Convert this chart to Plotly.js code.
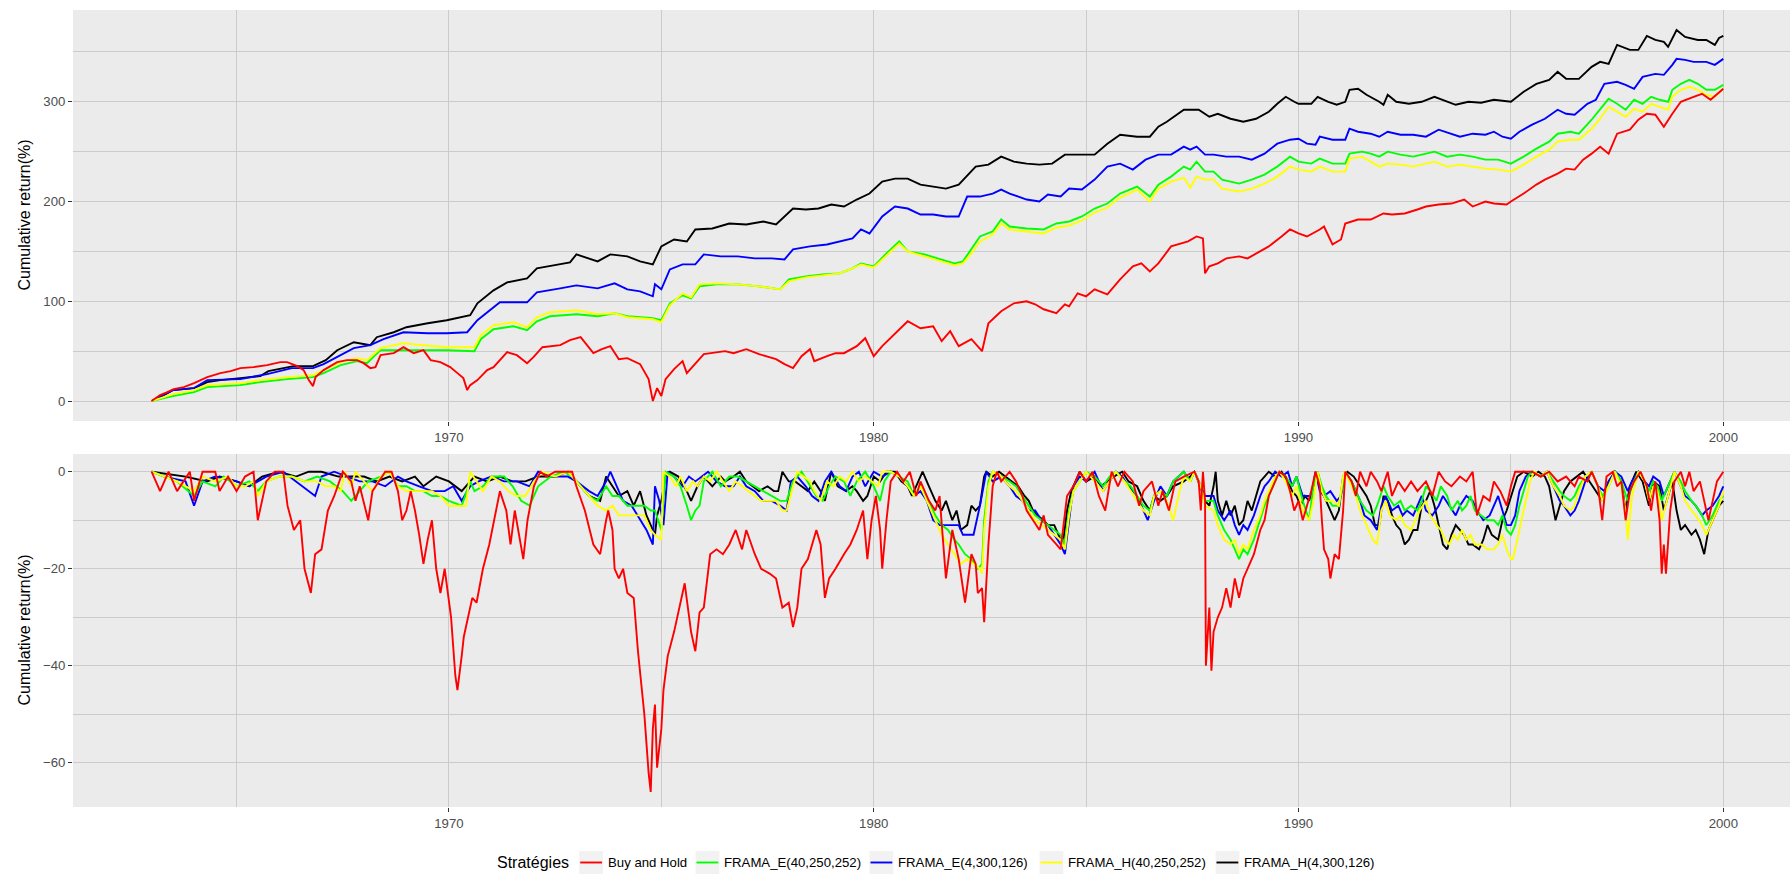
<!DOCTYPE html>
<html><head><meta charset="utf-8">
<script src="https://cdn.plot.ly/plotly-3.0.1.min.js"></script>
<style>html,body{margin:0;padding:0;background:#fff;} #chart{width:1790px;height:875px;}</style>
</head><body><div id="chart"></div>
<script>
const seriesNames = ["Buy and Hold","FRAMA_E(40,250,252)","FRAMA_E(4,300,126)","FRAMA_H(40,250,252)","FRAMA_H(4,300,126)"];
const seriesColors = ["#FF0000","#00FF00","#0000FF","#FFFF00","#000000"];
const xTickYears = [1970,1980,1990,2000];
const xMinorYears = [1965,1975,1985,1995];
const cumTicks = [0,100,200,300];
const cumMinor = [50,150,250,350];
const ddTicks = [-60,-40,-20,0];
const ddMinor = [-50,-30,-10];
const yTitle = "Cumulative return(%)";
const legendTitle = "Stratégies";

// ---- cumulative return, [year, %] ----
const cumBuyHold = [[1963.0,0],[1963.2,6],[1963.37,9],[1963.52,12],[1963.76,14],[1964.0,18],[1964.31,24],[1964.62,28],[1964.86,30],[1965.09,33],[1965.4,34],[1965.72,36],[1966.03,39],[1966.19,39],[1966.43,35],[1966.58,31],[1966.7,21],[1966.8,15],[1966.86,24],[1967.05,31],[1967.37,39],[1967.6,41],[1967.84,41],[1967.99,38],[1968.15,33],[1968.27,34],[1968.39,46],[1968.7,48],[1968.93,54],[1969.17,48],[1969.4,51],[1969.57,41],[1969.8,39],[1970.03,34],[1970.2,28],[1970.34,23],[1970.43,11],[1970.5,16],[1970.67,21],[1970.9,31],[1971.05,34],[1971.37,49],[1971.6,46],[1971.84,38],[1971.99,44],[1972.2,54],[1972.62,56],[1972.85,61],[1973.1,64],[1973.3,53],[1973.4,48],[1973.6,52],[1973.8,55],[1974.0,42],[1974.2,43],[1974.5,37],[1974.7,22],[1974.8,0],[1974.9,13],[1975.0,5],[1975.1,22],[1975.3,32],[1975.5,40],[1975.6,28],[1975.8,37],[1976.0,47],[1976.5,50],[1976.7,48],[1977.0,52],[1977.3,47],[1977.7,42],[1977.9,37],[1978.1,33],[1978.3,45],[1978.5,52],[1978.6,40],[1978.9,45],[1979.1,48],[1979.3,48],[1979.6,55],[1979.8,63],[1980.0,45],[1980.2,55],[1980.5,68],[1980.8,80],[1981.1,73],[1981.4,75],[1981.6,60],[1981.8,70],[1982.0,55],[1982.3,62],[1982.55,50],[1982.7,78],[1983.0,90],[1983.3,98],[1983.6,100],[1983.8,97],[1984.0,92],[1984.3,88],[1984.5,97],[1984.6,95],[1984.8,108],[1985.0,105],[1985.2,112],[1985.5,107],[1985.8,122],[1986.1,135],[1986.3,138],[1986.5,130],[1986.7,138],[1987.0,155],[1987.4,160],[1987.6,165],[1987.75,163],[1987.8,128],[1987.9,135],[1988.1,138],[1988.3,143],[1988.6,145],[1988.8,143],[1989.0,148],[1989.3,155],[1989.6,165],[1989.8,172],[1990.0,168],[1990.2,165],[1990.5,172],[1990.6,175],[1990.8,157],[1991.0,162],[1991.1,178],[1991.4,182],[1991.7,182],[1992.0,188],[1992.2,187],[1992.5,188],[1992.8,192],[1993.0,195],[1993.3,197],[1993.6,198],[1993.9,202],[1994.1,195],[1994.4,200],[1994.6,198],[1994.9,197],[1995.0,200],[1995.3,208],[1995.6,217],[1995.8,222],[1996.1,228],[1996.3,233],[1996.5,232],[1996.7,242],[1996.9,248],[1997.1,255],[1997.3,248],[1997.5,268],[1997.8,272],[1998.0,282],[1998.2,288],[1998.4,287],[1998.6,275],[1998.8,288],[1999.0,300],[1999.3,305],[1999.5,308],[1999.7,302],[1999.9,310],[2000.0,313]];
const cumFramaE40 = [[1963.0,0],[1963.5,5],[1964.0,9],[1964.31,14],[1965.09,16],[1965.56,19],[1966.2,22],[1966.8,24],[1967.05,28],[1967.45,36],[1967.84,40],[1968.07,38],[1968.39,51],[1968.93,51],[1969.4,51],[1969.95,51],[1970.6,50],[1970.75,62],[1971.05,72],[1971.52,75],[1971.84,71],[1972.07,80],[1972.38,85],[1973.0,87],[1973.5,85],[1973.9,88],[1974.2,85],[1974.8,83],[1975.0,81],[1975.2,98],[1975.5,106],[1975.7,103],[1975.9,115],[1976.3,117],[1976.8,117],[1977.3,115],[1977.8,112],[1978.0,122],[1978.4,125],[1978.8,127],[1979.2,128],[1979.5,133],[1979.7,138],[1980.0,135],[1980.3,148],[1980.6,160],[1980.8,150],[1981.2,147],[1981.5,143],[1981.9,138],[1982.1,140],[1982.3,152],[1982.5,165],[1982.8,170],[1983.0,182],[1983.2,175],[1983.6,173],[1984.0,172],[1984.3,178],[1984.6,180],[1984.9,185],[1985.2,193],[1985.5,198],[1985.8,208],[1986.2,215],[1986.5,205],[1986.7,217],[1987.0,225],[1987.3,235],[1987.45,232],[1987.6,240],[1987.8,230],[1988.0,230],[1988.2,222],[1988.6,218],[1988.9,222],[1989.2,227],[1989.5,235],[1989.8,245],[1990.0,240],[1990.3,238],[1990.5,243],[1990.8,238],[1991.1,238],[1991.2,248],[1991.5,250],[1991.7,248],[1991.9,245],[1992.1,250],[1992.4,247],[1992.7,245],[1993.0,248],[1993.2,250],[1993.5,245],[1993.8,247],[1994.1,245],[1994.4,242],[1994.7,242],[1995.0,238],[1995.3,245],[1995.6,253],[1995.9,260],[1996.1,268],[1996.4,270],[1996.6,268],[1996.9,282],[1997.1,292],[1997.3,303],[1997.5,298],[1997.7,292],[1997.9,302],[1998.1,298],[1998.3,305],[1998.5,302],[1998.7,300],[1998.8,312],[1999.0,318],[1999.2,322],[1999.4,318],[1999.6,312],[1999.8,312],[2000.0,317]];
const cumFramaE4 = [[1963.0,0],[1963.5,11],[1964.0,13],[1964.31,21],[1965.09,22],[1965.72,27],[1966.3,33],[1966.8,33],[1967.05,37],[1967.37,44],[1967.76,53],[1968.15,56],[1968.46,62],[1968.93,69],[1969.5,68],[1969.95,68],[1970.43,69],[1970.67,81],[1971.05,94],[1971.2,99],[1971.84,99],[1972.07,109],[1972.62,113],[1973.0,116],[1973.5,113],[1973.9,118],[1974.2,112],[1974.5,110],[1974.8,105],[1974.85,117],[1975.0,112],[1975.2,132],[1975.5,137],[1975.8,137],[1976.0,147],[1976.4,145],[1976.8,145],[1977.2,143],[1977.6,143],[1977.9,142],[1978.1,152],[1978.5,155],[1978.9,157],[1979.2,160],[1979.5,163],[1979.7,172],[1979.9,168],[1980.2,185],[1980.5,195],[1980.8,193],[1981.1,187],[1981.4,187],[1981.7,185],[1982.0,185],[1982.2,205],[1982.5,205],[1982.8,208],[1983.0,212],[1983.2,208],[1983.6,202],[1983.9,200],[1984.1,207],[1984.4,205],[1984.6,213],[1984.9,212],[1985.2,222],[1985.5,235],[1985.8,238],[1986.1,232],[1986.4,242],[1986.7,247],[1987.0,247],[1987.3,255],[1987.45,252],[1987.6,255],[1987.8,247],[1988.0,247],[1988.3,245],[1988.6,245],[1988.9,242],[1989.2,248],[1989.5,258],[1989.8,262],[1990.0,263],[1990.2,258],[1990.4,257],[1990.5,265],[1990.8,262],[1991.1,262],[1991.2,273],[1991.4,270],[1991.7,268],[1991.9,265],[1992.1,270],[1992.4,267],[1992.7,267],[1993.0,265],[1993.3,272],[1993.6,268],[1993.8,265],[1994.1,268],[1994.4,267],[1994.6,270],[1994.8,265],[1995.0,263],[1995.2,270],[1995.5,277],[1995.8,283],[1996.1,292],[1996.3,288],[1996.5,287],[1996.8,298],[1997.0,302],[1997.2,318],[1997.5,320],[1997.7,317],[1997.9,313],[1998.1,325],[1998.4,328],[1998.6,327],[1998.8,337],[1998.9,343],[1999.1,342],[1999.3,340],[1999.6,340],[1999.8,337],[2000.0,343]];
const cumFramaH40 = [[1963.0,0],[1963.5,7],[1964.0,11],[1964.31,16],[1965.09,18],[1965.56,21],[1966.2,24],[1966.8,26],[1967.05,31],[1967.45,39],[1967.84,43],[1968.07,41],[1968.39,53],[1968.93,58],[1969.4,56],[1969.95,54],[1970.6,54],[1970.75,66],[1971.05,76],[1971.52,79],[1971.84,74],[1972.07,84],[1972.38,89],[1973.0,91],[1973.5,87],[1973.9,88],[1974.2,84],[1974.8,82],[1975.0,79],[1975.2,96],[1975.5,108],[1975.7,104],[1975.9,117],[1976.3,118],[1976.8,117],[1977.3,115],[1977.8,112],[1978.0,120],[1978.4,124],[1978.8,126],[1979.2,128],[1979.5,133],[1979.7,137],[1980.0,134],[1980.3,146],[1980.6,158],[1980.8,150],[1981.2,145],[1981.5,141],[1981.9,136],[1982.1,138],[1982.3,148],[1982.5,160],[1982.8,167],[1983.0,178],[1983.2,172],[1983.6,170],[1984.0,168],[1984.3,174],[1984.6,176],[1984.9,181],[1985.2,189],[1985.5,194],[1985.8,204],[1986.2,212],[1986.5,200],[1986.7,213],[1987.0,220],[1987.3,224],[1987.45,214],[1987.6,225],[1987.8,222],[1988.0,222],[1988.2,213],[1988.6,210],[1988.9,213],[1989.2,218],[1989.5,225],[1989.8,235],[1990.0,232],[1990.3,230],[1990.5,235],[1990.8,230],[1991.1,230],[1991.2,243],[1991.5,245],[1991.7,240],[1991.9,235],[1992.1,238],[1992.4,237],[1992.7,235],[1993.0,238],[1993.2,240],[1993.5,235],[1993.8,237],[1994.1,235],[1994.4,233],[1994.7,232],[1995.0,230],[1995.3,237],[1995.6,245],[1995.9,252],[1996.1,260],[1996.4,262],[1996.6,262],[1996.9,273],[1997.1,283],[1997.3,295],[1997.5,290],[1997.7,285],[1997.9,293],[1998.1,290],[1998.3,298],[1998.5,295],[1998.7,292],[1998.8,305],[1999.0,312],[1999.2,315],[1999.4,312],[1999.6,307],[1999.8,305],[2000.0,313]];
const cumFramaH4 = [[1963.0,0],[1963.2,4],[1963.5,11],[1964.0,13],[1964.31,19],[1964.62,21],[1965.09,23],[1965.56,25],[1965.75,30],[1966.0,32],[1966.34,35],[1966.8,35],[1967.1,41],[1967.37,51],[1967.76,59],[1968.15,56],[1968.3,64],[1968.7,69],[1969.0,74],[1969.5,78],[1969.95,81],[1970.5,86],[1970.67,98],[1971.05,111],[1971.37,119],[1971.84,123],[1972.07,133],[1972.46,136],[1972.85,139],[1973.0,147],[1973.5,140],[1973.8,147],[1974.2,145],[1974.5,140],[1974.8,137],[1975.0,155],[1975.3,162],[1975.6,160],[1975.8,172],[1976.2,173],[1976.6,178],[1977.0,177],[1977.4,180],[1977.7,177],[1977.9,185],[1978.1,193],[1978.4,192],[1978.7,193],[1979.0,197],[1979.3,195],[1979.6,202],[1979.9,208],[1980.2,220],[1980.5,223],[1980.8,223],[1981.1,217],[1981.4,215],[1981.7,213],[1982.0,217],[1982.4,235],[1982.7,237],[1983.0,245],[1983.3,240],[1983.6,238],[1983.9,237],[1984.2,238],[1984.5,247],[1984.8,247],[1985.2,247],[1985.5,258],[1985.8,267],[1986.2,265],[1986.5,265],[1986.7,275],[1986.9,280],[1987.3,292],[1987.65,292],[1987.9,285],[1988.1,288],[1988.4,283],[1988.7,280],[1989.0,283],[1989.3,290],[1989.5,298],[1989.7,305],[1989.9,300],[1990.0,298],[1990.3,298],[1990.45,305],[1990.7,300],[1990.9,297],[1991.1,300],[1991.2,312],[1991.4,313],[1991.6,307],[1991.9,300],[1992.0,297],[1992.1,307],[1992.3,300],[1992.6,298],[1992.9,300],[1993.2,305],[1993.5,300],[1993.7,297],[1994.0,300],[1994.3,299],[1994.6,302],[1994.9,300],[1995.0,300],[1995.3,310],[1995.6,318],[1995.9,322],[1996.1,330],[1996.3,323],[1996.6,323],[1996.9,335],[1997.1,340],[1997.3,338],[1997.5,357],[1997.8,352],[1998.0,352],[1998.2,366],[1998.4,362],[1998.6,360],[1998.7,355],[1998.9,372],[1999.1,365],[1999.4,362],[1999.6,362],[1999.8,357],[1999.9,364],[2000.0,366]];

// ---- drawdown, [year, %] ----
const ddBuyHold = [[1963.0,0],[1963.2,-4],[1963.4,0],[1963.6,-4],[1963.9,0],[1964.0,-6],[1964.2,0],[1964.5,0],[1964.6,-4],[1964.8,-1],[1965.0,-4],[1965.2,-1],[1965.4,0],[1965.5,-10],[1965.7,-2],[1965.9,0],[1966.1,0],[1966.2,-7],[1966.35,-12],[1966.5,-10],[1966.6,-20],[1966.7,-23],[1966.75,-25],[1966.85,-17],[1967.0,-16],[1967.15,-8],[1967.3,-5],[1967.5,0],[1967.7,-2],[1967.8,-6],[1967.9,-3],[1968.1,-10],[1968.2,-4],[1968.35,-2],[1968.5,0],[1968.65,0],[1968.8,-4],[1968.9,-10],[1969.0,-8],[1969.1,-4],[1969.2,-8],[1969.3,-13],[1969.4,-19],[1969.5,-14],[1969.6,-10],[1969.7,-20],[1969.8,-25],[1969.9,-20],[1970.05,-30],[1970.15,-42],[1970.2,-45],[1970.3,-38],[1970.35,-34],[1970.45,-30],[1970.55,-26],[1970.65,-27],[1970.8,-20],[1970.95,-15],[1971.1,-8],[1971.2,-4],[1971.35,-8],[1971.45,-15],[1971.55,-8],[1971.75,-18],[1971.85,-10],[1972.0,-3],[1972.15,0],[1972.3,-1],[1972.5,0],[1972.7,0],[1972.9,0],[1973.0,-3],[1973.2,-8],[1973.4,-15],[1973.56,-17],[1973.7,-10],[1973.75,-8],[1973.85,-12],[1973.9,-20],[1974.0,-22],[1974.1,-20],[1974.2,-25],[1974.35,-26],[1974.45,-37],[1974.6,-50],[1974.7,-62],[1974.75,-66],[1974.8,-53],[1974.85,-48],[1974.9,-61],[1975.0,-53],[1975.05,-45],[1975.15,-38],[1975.3,-33],[1975.45,-27],[1975.55,-23],[1975.7,-33],[1975.8,-37],[1975.9,-29],[1976.0,-28],[1976.15,-17],[1976.3,-16],[1976.45,-17],[1976.6,-15],[1976.75,-12],[1976.9,-16],[1977.0,-12],[1977.2,-17],[1977.35,-20],[1977.55,-21],[1977.7,-22],[1977.85,-28],[1978.0,-27],[1978.1,-32],[1978.2,-28],[1978.3,-20],[1978.45,-18],[1978.55,-15],[1978.65,-12],[1978.75,-15],[1978.85,-26],[1978.95,-22],[1979.1,-20],[1979.3,-17],[1979.45,-15],[1979.6,-12],[1979.75,-8],[1979.85,-18],[1979.95,-10],[1980.05,-5],[1980.15,-12],[1980.2,-20],[1980.3,-10],[1980.4,-2],[1980.55,0],[1980.7,-2],[1980.85,0],[1981.0,-5],[1981.1,-2],[1981.3,-6],[1981.45,-8],[1981.55,-5],[1981.7,-22],[1981.85,-12],[1982.0,-18],[1982.15,-27],[1982.3,-17],[1982.4,-19],[1982.45,-25],[1982.55,-24],[1982.6,-31],[1982.7,-15],[1982.8,-3],[1982.9,0],[1983.0,-2],[1983.2,0],[1983.35,-2],[1983.5,-5],[1983.6,-8],[1983.75,-10],[1983.9,-12],[1984.0,-9],[1984.1,-13],[1984.3,-15],[1984.4,-16],[1984.55,-5],[1984.7,-3],[1984.85,0],[1985.0,-2],[1985.15,0],[1985.3,-5],[1985.45,-8],[1985.6,0],[1985.75,-3],[1985.9,0],[1986.1,-2],[1986.25,-7],[1986.35,-4],[1986.55,-2],[1986.7,-7],[1986.8,-4],[1986.95,-8],[1987.1,-2],[1987.3,-1],[1987.55,0],[1987.65,-2],[1987.7,-8],[1987.75,0],[1987.8,-6],[1987.82,-40],[1987.9,-28],[1987.95,-41],[1988.0,-33],[1988.1,-30],[1988.2,-28],[1988.3,-24],[1988.4,-28],[1988.5,-22],[1988.6,-26],[1988.7,-22],[1988.8,-20],[1988.95,-17],[1989.1,-12],[1989.2,-10],[1989.3,-5],[1989.45,-2],[1989.55,0],[1989.7,-1],[1989.8,-4],[1989.9,-8],[1990.0,-6],[1990.1,-10],[1990.2,-7],[1990.3,-4],[1990.4,0],[1990.5,-3],[1990.55,-10],[1990.6,-16],[1990.7,-18],[1990.75,-22],[1990.85,-17],[1990.95,-18],[1991.05,-8],[1991.1,0],[1991.25,-2],[1991.35,-5],[1991.45,0],[1991.6,-3],[1991.7,0],[1991.85,-2],[1991.95,-4],[1992.1,0],[1992.2,-5],[1992.35,-2],[1992.5,-4],[1992.65,-2],[1992.8,-4],[1993.0,-2],[1993.15,-5],[1993.3,0],[1993.45,-2],[1993.6,-3],[1993.8,-1],[1993.95,-2],[1994.1,0],[1994.2,-9],[1994.35,-5],[1994.5,-6],[1994.6,-2],[1994.75,-4],[1994.9,-7],[1995.0,-3],[1995.1,0],[1995.3,0],[1995.5,0],[1995.7,-1],[1995.9,0],[1996.1,-2],[1996.3,-1],[1996.5,-3],[1996.6,-1],[1996.8,-2],[1996.9,0],[1997.05,-3],[1997.15,-10],[1997.25,-1],[1997.4,0],[1997.5,-3],[1997.6,-2],[1997.7,-10],[1997.8,-4],[1997.9,-2],[1998.05,0],[1998.2,-3],[1998.3,-8],[1998.4,-2],[1998.5,-10],[1998.55,-21],[1998.6,-15],[1998.65,-21],[1998.75,-8],[1998.85,-2],[1999.0,0],[1999.1,-3],[1999.2,0],[1999.3,-4],[1999.45,-2],[1999.55,-6],[1999.65,-10],[1999.75,-6],[1999.85,-2],[2000.0,0]];
const ddFramaE40 = [[1963.0,0],[1963.3,-1],[1963.6,-2],[1964.0,-5],[1964.2,-2],[1964.5,-3],[1964.7,-1],[1965.0,-3],[1965.3,-2],[1965.5,-4],[1965.7,-2],[1966.0,-1],[1966.3,-1],[1966.6,-2],[1966.9,-1],[1967.2,-2],[1967.5,-4],[1967.7,-6],[1967.9,-4],[1968.1,-2],[1968.4,-1],[1968.6,0],[1968.8,-3],[1969.0,-3],[1969.2,-4],[1969.4,-4],[1969.6,-5],[1969.8,-5],[1970.0,-6],[1970.3,-7],[1970.5,-2],[1970.6,-4],[1970.8,-3],[1971.0,-1],[1971.3,-1],[1971.5,-3],[1971.7,-6],[1971.9,-7],[1972.1,-3],[1972.4,-1],[1972.7,0],[1972.9,-1],[1973.1,-3],[1973.3,-5],[1973.5,-6],[1973.7,-3],[1973.85,-5],[1974.0,-5],[1974.2,-7],[1974.4,-7],[1974.6,-7],[1974.75,-8],[1974.85,-8],[1975.0,-12],[1975.1,0],[1975.3,-1],[1975.45,-3],[1975.6,-7],[1975.7,-10],[1975.8,-8],[1975.9,-7],[1976.0,-2],[1976.2,0],[1976.4,-3],[1976.6,-1],[1976.8,-1],[1977.0,-2],[1977.2,-3],[1977.4,-4],[1977.6,-5],[1977.8,-6],[1977.95,-6],[1978.1,-2],[1978.3,0],[1978.5,-3],[1978.65,-5],[1978.8,-6],[1978.95,-3],[1979.1,-1],[1979.3,-2],[1979.45,-5],[1979.6,-2],[1979.8,0],[1980.0,-3],[1980.15,-6],[1980.25,-2],[1980.4,0],[1980.6,-1],[1980.8,-2],[1980.95,-5],[1981.1,-3],[1981.3,-6],[1981.45,-9],[1981.6,-11],[1981.75,-12],[1981.9,-14],[1982.0,-15],[1982.15,-17],[1982.3,-18],[1982.45,-20],[1982.55,-19],[1982.6,-10],[1982.7,-2],[1982.8,0],[1983.0,-1],[1983.2,-2],[1983.35,-3],[1983.5,-5],[1983.65,-7],[1983.8,-9],[1983.95,-10],[1984.1,-11],[1984.25,-12],[1984.4,-13],[1984.5,-15],[1984.6,-8],[1984.7,-4],[1984.85,-2],[1985.0,0],[1985.2,-1],[1985.4,-3],[1985.55,-1],[1985.7,0],[1985.9,-2],[1986.05,-3],[1986.2,-5],[1986.35,-7],[1986.5,-8],[1986.6,-5],[1986.75,-4],[1986.9,-5],[1987.05,-2],[1987.3,0],[1987.45,-2],[1987.55,0],[1987.7,-3],[1987.8,-6],[1988.0,-6],[1988.1,-9],[1988.25,-12],[1988.4,-14],[1988.5,-16],[1988.6,-18],[1988.7,-16],[1988.8,-17],[1988.95,-14],[1989.1,-10],[1989.2,-7],[1989.3,-5],[1989.45,-2],[1989.55,0],[1989.7,-1],[1989.85,-3],[1989.95,-1],[1990.1,-6],[1990.25,-10],[1990.35,-3],[1990.45,0],[1990.55,-3],[1990.65,-5],[1990.8,-7],[1990.95,-7],[1991.05,-2],[1991.1,0],[1991.25,-2],[1991.35,-4],[1991.45,-6],[1991.6,-8],[1991.75,-9],[1991.85,-7],[1992.0,-3],[1992.1,-5],[1992.25,-7],[1992.4,-6],[1992.5,-8],[1992.65,-7],[1992.8,-8],[1992.9,-6],[1993.0,-3],[1993.1,-4],[1993.25,-6],[1993.35,-3],[1993.5,-5],[1993.6,-8],[1993.75,-6],[1993.85,-8],[1993.95,-7],[1994.05,-5],[1994.15,-8],[1994.3,-9],[1994.45,-10],[1994.6,-10],[1994.7,-11],[1994.8,-9],[1994.9,-12],[1995.0,-13],[1995.1,-11],[1995.2,-7],[1995.3,-4],[1995.4,-1],[1995.5,0],[1995.7,-1],[1995.85,0],[1996.0,-2],[1996.15,-4],[1996.25,-5],[1996.4,-6],[1996.5,-5],[1996.6,-3],[1996.75,-1],[1996.9,0],[1997.05,-3],[1997.15,-5],[1997.3,-3],[1997.45,0],[1997.6,-2],[1997.7,-5],[1997.75,-6],[1997.85,-3],[1998.0,0],[1998.15,-2],[1998.25,-4],[1998.35,-2],[1998.45,-3],[1998.55,-6],[1998.7,-3],[1998.85,0],[1999.0,-2],[1999.1,-4],[1999.25,-6],[1999.35,-7],[1999.5,-9],[1999.6,-11],[1999.75,-9],[1999.9,-6],[2000.0,-5]];
const ddFramaE4 = [[1963.0,0],[1963.3,-1],[1963.8,-2],[1964.0,-7],[1964.2,-2],[1964.5,-1],[1965.0,-2],[1965.3,-3],[1965.7,-1],[1966.1,0],[1966.4,-2],[1966.7,-4],[1966.85,-5],[1967.0,-1],[1967.3,0],[1967.6,-1],[1967.9,-2],[1968.2,-2],[1968.5,-3],[1968.8,-1],[1969.0,-2],[1969.3,-3],[1969.6,-4],[1969.9,-4],[1970.1,-3],[1970.3,-6],[1970.5,-3],[1970.7,-2],[1971.0,-1],[1971.3,-2],[1971.6,-2],[1971.9,-3],[1972.1,0],[1972.5,-1],[1972.8,-1],[1973.0,-2],[1973.3,-4],[1973.5,-5],[1973.7,-2],[1973.8,0],[1973.95,-3],[1974.1,-6],[1974.3,-7],[1974.5,-10],[1974.65,-12],[1974.8,-15],[1974.85,-3],[1974.95,-6],[1975.05,-11],[1975.15,0],[1975.3,-1],[1975.5,-3],[1975.65,-1],[1975.8,-2],[1975.95,-1],[1976.1,0],[1976.3,-2],[1976.5,-3],[1976.7,-3],[1976.85,-1],[1977.0,-3],[1977.2,-4],[1977.4,-6],[1977.6,-6],[1977.8,-7],[1977.95,-8],[1978.05,-2],[1978.2,-1],[1978.4,-3],[1978.55,-5],[1978.7,-6],[1978.85,-2],[1979.0,0],[1979.2,-3],[1979.35,-4],[1979.5,-1],[1979.65,0],[1979.8,-3],[1980.0,0],[1980.2,-1],[1980.4,0],[1980.6,-1],[1980.8,-3],[1980.95,-5],[1981.1,-4],[1981.25,-6],[1981.4,-10],[1981.55,-11],[1981.7,-11],[1981.85,-11],[1982.0,-11],[1982.1,-13],[1982.2,-13],[1982.35,-13],[1982.5,-7],[1982.6,-2],[1982.65,0],[1982.8,-2],[1983.0,-1],[1983.2,-3],[1983.35,-5],[1983.5,-6],[1983.65,-8],[1983.8,-8],[1983.95,-10],[1984.1,-11],[1984.25,-13],[1984.4,-15],[1984.5,-17],[1984.6,-10],[1984.7,-3],[1984.85,-1],[1985.0,-2],[1985.2,0],[1985.4,-4],[1985.55,-2],[1985.7,0],[1985.85,-1],[1986.0,-3],[1986.2,-5],[1986.35,-8],[1986.45,-10],[1986.6,-6],[1986.75,-3],[1986.9,-5],[1987.05,-2],[1987.3,0],[1987.45,-2],[1987.55,0],[1987.7,-3],[1987.8,-5],[1988.0,-5],[1988.1,-8],[1988.25,-10],[1988.4,-8],[1988.5,-11],[1988.6,-13],[1988.7,-11],[1988.8,-12],[1988.95,-9],[1989.1,-5],[1989.2,-3],[1989.3,-2],[1989.45,0],[1989.6,-1],[1989.75,0],[1989.85,-3],[1989.95,-1],[1990.1,-5],[1990.3,-5],[1990.4,0],[1990.5,-4],[1990.6,-5],[1990.75,-4],[1990.9,-6],[1991.0,-5],[1991.1,0],[1991.25,-2],[1991.35,-4],[1991.45,-6],[1991.55,-9],[1991.7,-10],[1991.85,-12],[1991.95,-7],[1992.05,-5],[1992.2,-8],[1992.35,-7],[1992.45,-9],[1992.55,-8],[1992.7,-9],[1992.8,-7],[1992.9,-5],[1993.0,-8],[1993.15,-9],[1993.3,-7],[1993.4,-5],[1993.55,-7],[1993.7,-9],[1993.8,-7],[1993.95,-5],[1994.1,-6],[1994.2,-8],[1994.35,-10],[1994.5,-9],[1994.6,-7],[1994.7,-5],[1994.8,-8],[1994.9,-11],[1995.0,-11],[1995.1,-9],[1995.2,-4],[1995.35,-1],[1995.5,0],[1995.7,-1],[1995.85,0],[1996.0,-3],[1996.15,-6],[1996.25,-7],[1996.4,-9],[1996.5,-8],[1996.6,-6],[1996.75,-2],[1996.9,0],[1997.05,-3],[1997.2,-4],[1997.3,-2],[1997.45,0],[1997.6,-1],[1997.75,-4],[1997.85,-2],[1998.0,0],[1998.15,-2],[1998.25,-3],[1998.35,-1],[1998.5,-2],[1998.6,-5],[1998.7,-3],[1998.85,0],[1999.0,-3],[1999.1,-5],[1999.25,-6],[1999.35,-7],[1999.5,-9],[1999.6,-8],[1999.75,-7],[1999.9,-5],[2000.0,-3]];
const ddFramaH40 = [[1963.0,0],[1963.3,-1],[1963.6,-2],[1964.0,-4],[1964.2,-1],[1964.5,-2],[1964.8,-1],[1965.0,-3],[1965.2,-3],[1965.4,-2],[1965.5,-5],[1965.7,-2],[1966.0,-1],[1966.3,-1],[1966.6,-2],[1966.9,-2],[1967.1,-3],[1967.3,-3],[1967.45,-4],[1967.55,0],[1967.7,-3],[1967.8,0],[1968.0,-2],[1968.2,-4],[1968.4,-1],[1968.6,0],[1968.8,-3],[1969.0,-4],[1969.2,-4],[1969.4,-4],[1969.6,-4],[1969.8,-5],[1970.0,-7],[1970.2,-7],[1970.4,-7],[1970.5,0],[1970.65,-2],[1970.8,-4],[1971.0,-1],[1971.2,-2],[1971.4,-4],[1971.6,-5],[1971.8,-5],[1972.0,-2],[1972.2,0],[1972.5,-1],[1972.8,0],[1973.0,-2],[1973.2,-4],[1973.5,-7],[1973.7,-8],[1973.85,-7],[1974.0,-9],[1974.2,-9],[1974.4,-9],[1974.6,-9],[1974.75,-12],[1974.85,-13],[1975.0,-14],[1975.05,0],[1975.2,-1],[1975.35,-3],[1975.45,-1],[1975.6,-4],[1975.75,-2],[1975.85,-3],[1976.0,-1],[1976.15,-2],[1976.3,0],[1976.45,-2],[1976.6,-4],[1976.75,-2],[1976.9,-3],[1977.05,-4],[1977.2,-5],[1977.35,-6],[1977.5,-6],[1977.7,-6],[1977.85,-8],[1977.95,-8],[1978.1,-3],[1978.2,0],[1978.35,-1],[1978.5,-2],[1978.6,-4],[1978.75,-6],[1978.9,-2],[1979.05,-3],[1979.2,-1],[1979.35,-2],[1979.5,0],[1979.65,-2],[1979.8,-1],[1979.95,-2],[1980.1,-3],[1980.2,0],[1980.4,0],[1980.6,-1],[1980.8,-3],[1980.95,-5],[1981.1,-3],[1981.3,-7],[1981.45,-10],[1981.6,-13],[1981.75,-15],[1981.9,-17],[1982.05,-19],[1982.2,-18],[1982.35,-19],[1982.5,-20],[1982.55,-21],[1982.6,-12],[1982.7,-3],[1982.8,0],[1983.0,-1],[1983.2,-3],[1983.35,-4],[1983.5,-6],[1983.65,-8],[1983.8,-10],[1983.95,-11],[1984.1,-12],[1984.25,-13],[1984.4,-14],[1984.5,-16],[1984.6,-9],[1984.7,-4],[1984.85,-2],[1985.0,0],[1985.2,-2],[1985.4,-4],[1985.55,-2],[1985.7,0],[1985.9,-2],[1986.05,-4],[1986.2,-6],[1986.35,-8],[1986.5,-9],[1986.6,-5],[1986.75,-4],[1986.9,-6],[1987.05,-10],[1987.2,-4],[1987.3,-1],[1987.45,-2],[1987.55,0],[1987.7,-3],[1987.8,-7],[1988.0,-8],[1988.1,-11],[1988.25,-14],[1988.4,-15],[1988.5,-14],[1988.6,-17],[1988.7,-15],[1988.8,-16],[1988.95,-12],[1989.1,-9],[1989.2,-6],[1989.3,-4],[1989.45,-1],[1989.55,0],[1989.7,-2],[1989.85,-5],[1989.95,-3],[1990.1,-8],[1990.25,-10],[1990.35,-6],[1990.45,0],[1990.55,-4],[1990.65,-6],[1990.8,-6],[1990.95,-7],[1991.05,-1],[1991.1,0],[1991.25,-3],[1991.35,-5],[1991.45,-8],[1991.55,-10],[1991.65,-12],[1991.75,-14],[1991.85,-15],[1991.95,-8],[1992.05,-6],[1992.15,-9],[1992.3,-10],[1992.4,-9],[1992.5,-11],[1992.65,-12],[1992.75,-10],[1992.85,-8],[1993.0,-6],[1993.1,-9],[1993.25,-11],[1993.35,-12],[1993.45,-14],[1993.55,-15],[1993.65,-13],[1993.75,-14],[1993.85,-12],[1993.95,-14],[1994.05,-13],[1994.15,-15],[1994.3,-15],[1994.45,-16],[1994.6,-16],[1994.7,-15],[1994.8,-13],[1994.9,-16],[1995.0,-18],[1995.05,-18],[1995.15,-14],[1995.25,-10],[1995.35,-6],[1995.45,-2],[1995.55,0],[1995.7,-1],[1995.85,0],[1996.0,-3],[1996.15,-5],[1996.25,-7],[1996.4,-8],[1996.5,-7],[1996.6,-4],[1996.75,-1],[1996.9,0],[1997.05,-3],[1997.15,-6],[1997.3,-3],[1997.45,0],[1997.6,-3],[1997.7,-8],[1997.75,-14],[1997.85,-5],[1998.0,0],[1998.15,-2],[1998.25,-6],[1998.35,-3],[1998.45,-4],[1998.55,-10],[1998.7,-5],[1998.85,0],[1999.0,-3],[1999.1,-6],[1999.25,-8],[1999.35,-9],[1999.5,-11],[1999.6,-13],[1999.75,-10],[1999.9,-7],[2000.0,-4]];
const ddFramaH4 = [[1963.0,0],[1963.8,-1],[1964.3,-2],[1964.6,-1],[1965.0,-2],[1965.3,-3],[1965.6,-1],[1966.0,0],[1966.4,-1],[1966.7,0],[1967.0,0],[1967.4,-1],[1967.7,-1],[1968.0,-1],[1968.3,-2],[1968.6,-1],[1968.9,-2],[1969.2,-1],[1969.4,-3],[1969.7,-1],[1970.0,-2],[1970.3,-4],[1970.6,-1],[1970.9,-2],[1971.2,-1],[1971.5,-2],[1971.8,-2],[1972.1,-1],[1972.5,-1],[1972.8,0],[1973.0,-2],[1973.3,-5],[1973.56,-6],[1973.7,-1],[1973.85,-3],[1974.0,-5],[1974.2,-4],[1974.35,-7],[1974.5,-4],[1974.65,-9],[1974.75,-11],[1974.85,-13],[1974.9,-9],[1975.0,-6],[1975.1,-1],[1975.2,0],[1975.4,-1],[1975.6,-4],[1975.7,-6],[1975.85,-3],[1976.0,-1],[1976.2,-3],[1976.4,-1],[1976.5,-2],[1976.7,-1],[1976.85,0],[1977.0,-2],[1977.15,-3],[1977.3,-4],[1977.5,-3],[1977.65,-4],[1977.75,-4],[1977.85,0],[1978.0,-2],[1978.15,-2],[1978.3,-3],[1978.45,-4],[1978.6,-2],[1978.75,-4],[1978.85,-6],[1979.0,0],[1979.15,-3],[1979.35,-4],[1979.5,-3],[1979.6,-4],[1979.75,-6],[1979.85,-5],[1980.0,-1],[1980.15,-2],[1980.3,0],[1980.5,0],[1980.65,-2],[1980.8,-3],[1980.9,-5],[1981.05,-2],[1981.15,0],[1981.3,-3],[1981.45,-6],[1981.6,-8],[1981.7,-6],[1981.85,-10],[1981.95,-8],[1982.05,-12],[1982.2,-11],[1982.3,-7],[1982.4,-8],[1982.5,-7],[1982.6,-1],[1982.65,0],[1982.8,-1],[1982.95,0],[1983.1,-1],[1983.25,-2],[1983.4,-3],[1983.55,-5],[1983.65,-6],[1983.75,-8],[1983.85,-9],[1984.0,-10],[1984.1,-11],[1984.25,-11],[1984.35,-13],[1984.45,-15],[1984.55,-8],[1984.65,-4],[1984.75,-2],[1984.85,0],[1985.0,-2],[1985.2,-1],[1985.35,-3],[1985.5,-2],[1985.65,-1],[1985.85,0],[1986.0,-2],[1986.2,-3],[1986.35,-6],[1986.5,-8],[1986.6,-5],[1986.75,-6],[1986.9,-5],[1987.05,-3],[1987.3,-2],[1987.45,-1],[1987.55,0],[1987.6,-1],[1987.8,-6],[1987.9,-7],[1988.0,-3],[1988.05,0],[1988.1,-6],[1988.2,-9],[1988.3,-6],[1988.4,-9],[1988.5,-7],[1988.6,-11],[1988.7,-10],[1988.8,-6],[1988.9,-8],[1989.0,-5],[1989.1,-2],[1989.2,-1],[1989.3,0],[1989.45,-1],[1989.6,0],[1989.75,-2],[1989.85,-4],[1989.95,-5],[1990.05,-7],[1990.15,-5],[1990.25,-6],[1990.35,-3],[1990.45,0],[1990.55,-4],[1990.65,-6],[1990.75,-8],[1990.85,-10],[1990.95,-8],[1991.05,-1],[1991.15,0],[1991.3,-1],[1991.45,-3],[1991.6,-5],[1991.7,-7],[1991.8,-11],[1991.9,-11],[1992.0,-5],[1992.1,-6],[1992.2,-9],[1992.3,-11],[1992.4,-12],[1992.5,-15],[1992.6,-14],[1992.7,-12],[1992.8,-12],[1992.9,-7],[1993.0,-6],[1993.1,-4],[1993.2,-7],[1993.3,-11],[1993.4,-15],[1993.5,-16],[1993.6,-13],[1993.7,-11],[1993.8,-12],[1993.9,-13],[1994.0,-15],[1994.1,-15],[1994.25,-16],[1994.35,-14],[1994.45,-11],[1994.55,-13],[1994.7,-14],[1994.8,-10],[1994.9,-8],[1995.0,-5],[1995.15,-1],[1995.3,0],[1995.5,-1],[1995.65,0],[1995.8,-1],[1995.9,-3],[1996.05,-10],[1996.15,-7],[1996.25,-4],[1996.4,-2],[1996.55,-1],[1996.7,0],[1996.85,-2],[1997.0,-4],[1997.15,-6],[1997.3,-2],[1997.45,0],[1997.6,-2],[1997.7,-8],[1997.8,-3],[1997.95,0],[1998.1,-2],[1998.25,-7],[1998.35,-2],[1998.5,-3],[1998.6,-8],[1998.7,-5],[1998.8,-2],[1998.9,-8],[1999.0,-12],[1999.1,-11],[1999.25,-13],[1999.35,-12],[1999.45,-14],[1999.55,-17],[1999.65,-12],[1999.75,-10],[1999.9,-7],[2000.0,-6]];

const cumSeries = [cumBuyHold, cumFramaE40, cumFramaE4, cumFramaH40, cumFramaH4];
const ddSeries = [ddBuyHold, ddFramaE40, ddFramaE4, ddFramaH40, ddFramaH4];
const drawOrder = [4, 2, 1, 3, 0];
const LINE_W = 1.9;

const traces = [];
drawOrder.forEach(i => {
  traces.push({
    type: 'scatter', mode: 'lines', name: seriesNames[i], legendgroup: 'g' + i,
    x: cumSeries[i].map(p => p[0]), y: cumSeries[i].map(p => p[1]),
    xaxis: 'x', yaxis: 'y', line: {color: seriesColors[i], width: LINE_W}, showlegend: false
  });
});
drawOrder.forEach(i => {
  traces.push({
    type: 'scatter', mode: 'lines', name: seriesNames[i], legendgroup: 'g' + i,
    x: ddSeries[i].map(p => p[0]), y: ddSeries[i].map(p => p[1]),
    xaxis: 'x2', yaxis: 'y2', line: {color: seriesColors[i], width: LINE_W}, showlegend: false
  });
});

const FONT = 'Liberation Sans, Arial, Helvetica, sans-serif';
const gridCol = '#CBCBCB';
const tickFont = {family: FONT, size: 13.2, color: '#4D4D4D'};
function xAxis(anchor) {
  return {
    anchor: anchor, domain: [0, 1], range: [1961.15, 2001.57], tickmode: 'array', tickvals: xTickYears,
    ticktext: xTickYears.map(String), ticks: 'outside', ticklen: 4, tickcolor: '#333333', tickwidth: 1,
    showgrid: true, gridcolor: gridCol, gridwidth: 1, zeroline: false, showline: false,
    tickfont: tickFont, minor: {tickvals: xMinorYears, showgrid: true, gridcolor: gridCol, gridwidth: 1, ticks: ''}
  };
}
function yAxis(anchor, domain, range, ticks, minor) {
  return {
    anchor: anchor, domain: domain, range: range, tickmode: 'array', tickvals: ticks,
    ticktext: ticks.map(v => v < 0 ? '\u2212' + Math.abs(v) : String(v)),
    ticks: 'outside', ticklen: 4, tickcolor: '#333333', tickwidth: 1,
    showgrid: true, gridcolor: gridCol, gridwidth: 1, zeroline: false, showline: false,
    tickfont: tickFont, minor: {tickvals: minor, showgrid: true, gridcolor: gridCol, gridwidth: 1, ticks: ''}
  };
}

// figure geometry (px) -> paper coordinates
const PL = 73, PW = 1717, PB = 807, PH = 797;
const px = v => (v - PL) / PW;
const py = v => (PB - v) / PH;

// legend drawn as ggplot-style key boxes + labels
const legendLabelX = [607.7, 724, 898, 1068, 1244];
const legendTitleX = 497, legendMidY = 862.5;
const legendShapes = [], legendAnnots = [];
legendAnnots.push({text: legendTitle, xref: 'paper', yref: 'paper', x: px(legendTitleX - 2), y: py(legendMidY),
  xanchor: 'left', yanchor: 'middle', showarrow: false, font: {family: FONT, size: 16, color: '#000000'}});
seriesNames.forEach((name, k) => {
  const tx = legendLabelX[k];
  legendShapes.push({type: 'rect', xref: 'paper', yref: 'paper', layer: 'above',
    x0: px(tx - 28.5), x1: px(tx - 4.7), y0: py(851), y1: py(874), fillcolor: '#F2F2F2', line: {width: 0}});
  legendShapes.push({type: 'line', xref: 'paper', yref: 'paper', layer: 'above',
    x0: px(tx - 27.5), x1: px(tx - 5.7), y0: py(legendMidY), y1: py(legendMidY),
    line: {color: seriesColors[k], width: LINE_W}});
  legendAnnots.push({text: name, xref: 'paper', yref: 'paper', x: px(tx - 2), y: py(legendMidY),
    xanchor: 'left', yanchor: 'middle', showarrow: false, font: {family: FONT, size: 13.2, color: '#000000'}});
});

const topDomain = [0.4843, 1];
const botDomain = [0, 0.4429];
const layout = {
  width: 1790, height: 875,
  margin: {l: 73, r: 0, t: 10, b: 68},
  paper_bgcolor: '#FFFFFF', plot_bgcolor: '#EBEBEB',
  font: {family: FONT, color: '#000000'},
  xaxis: xAxis('y'), yaxis: yAxis('x', topDomain, [-20, 392], cumTicks, cumMinor),
  xaxis2: xAxis('y2'), yaxis2: yAxis('x2', botDomain, [-69.1, 3.65], ddTicks, ddMinor),
  showlegend: false,
  shapes: legendShapes,
  annotations: [
    {text: yTitle, xref: 'paper', yref: 'paper', x: px(25), y: (topDomain[0] + topDomain[1]) / 2,
     xanchor: 'center', yanchor: 'middle', textangle: -90, showarrow: false, font: {family: FONT, size: 16, color: '#000000'}},
    {text: yTitle, xref: 'paper', yref: 'paper', x: px(25), y: (botDomain[0] + botDomain[1]) / 2,
     xanchor: 'center', yanchor: 'middle', textangle: -90, showarrow: false, font: {family: FONT, size: 16, color: '#000000'}}
  ].concat(legendAnnots)
};

Plotly.newPlot('chart', traces, layout, {displayModeBar: false, staticPlot: true});
</script></body></html>
